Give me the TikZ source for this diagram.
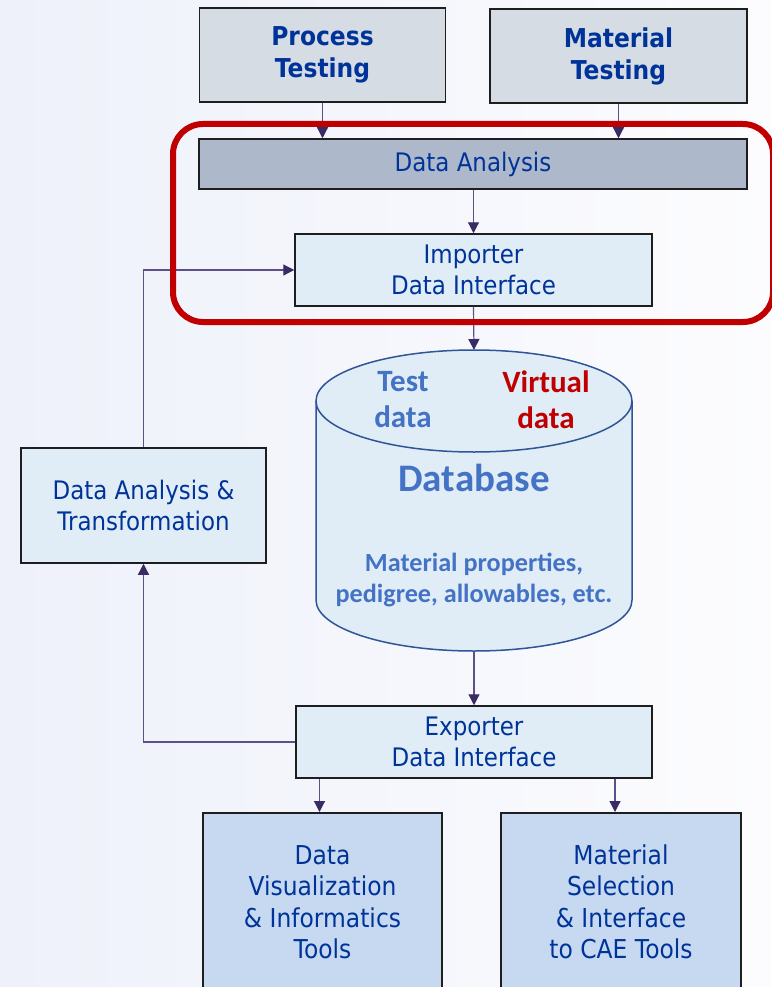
\documentclass[tikz,border=0pt]{standalone}
\usepackage{fontspec}
\setmainfont{DejaVu Sans}[FakeStretch=0.9]
\newfontfamily\dbfont{Carlito}
\usetikzlibrary{arrows.meta}

\definecolor{txtblue}{RGB}{0,51,153}
\definecolor{topfill}{RGB}{214,220,228}
\definecolor{anafill}{RGB}{173,185,202}
\definecolor{lightfill}{RGB}{224,237,247}
\definecolor{toolfill}{RGB}{198,217,240}
\definecolor{dbblue}{RGB}{68,114,196}
\definecolor{dbline}{RGB}{47,85,151}
\definecolor{frame}{RGB}{192,0,0}
\definecolor{linkline}{RGB}{94,78,138}
\definecolor{linktip}{RGB}{59,43,101}
\definecolor{boxline}{RGB}{30,30,30}
\definecolor{bgleft}{RGB}{238,241,250}
\definecolor{bgright}{RGB}{252,252,254}

\begin{document}
\begin{tikzpicture}[x=1pt,y=-1pt,
    box/.style={draw=boxline, line width=1.5pt, text=txtblue, align=center, inner sep=0pt,
        font=\fontsize{25.5}{31}\selectfont},
    titlebox/.style={box, fill=topfill, font=\fontsize{26}{32}\selectfont\bfseries},
    link/.style={draw=linkline, line width=1.2pt, -{Triangle[length=11pt,width=11pt,color=linktip]}},
    dbtext/.style={align=center, font=\dbfont\bfseries}]

    \useasboundingbox (0,0) rectangle (771,987);
    \shade[left color=bgleft, right color=bgright] (0,0) rectangle (771,987);

    % testing
    \node[titlebox, minimum width=246, minimum height=94] (proc) at (322.5,55) {Process\\Testing};
    \node[titlebox, minimum width=257, minimum height=94] (mat) at (618.5,56) {Material\\Testing};

    \node[box, fill=anafill, minimum width=548, minimum height=50] (ana) at (473,164) {Data Analysis};
    \node[box, fill=lightfill, minimum width=357, minimum height=72] (imp) at (473.5,270) {Importer\\Data Interface};

    % database
    \draw[dbline, fill=lightfill, line width=1.5pt] (316,401) -- (316,600)
        arc[start angle=180, end angle=0, x radius=158, y radius=51] -- (632,401);
    \draw[dbline, fill=lightfill, line width=1.5pt] (474,401) ellipse [x radius=158, y radius=51];
    \coordinate (dbtop) at (474,350);
    \coordinate (dbbot) at (474,651);

    \node[dbtext, text=dbblue, font=\dbfont\bfseries\fontsize{31}{36}\selectfont] (test) at (403,400) {Test\\data};
    \node[dbtext, text=frame, font=\dbfont\bfseries\fontsize{31}{36}\selectfont] (virt) at (546,400) {Virtual\\data};
    \node[dbtext, text=dbblue, font=\dbfont\bfseries\fontsize{39}{42}\selectfont] (db) at (474,478) {Database};
    \node[dbtext, text=dbblue, font=\dbfont\bfseries\fontsize{26.2}{31}\selectfont] (props) at (474,580)
        {Material properties,\\pedigree, allowables, etc.};

    \node[box, fill=lightfill, minimum width=245, minimum height=115] (trans) at (143.5,505.5) {Data Analysis \&\\Transformation};
    \node[box, fill=lightfill, minimum width=356, minimum height=72] (exp) at (474,742) {Exporter\\Data Interface};

    % tools
    \node[box, fill=toolfill, minimum width=239, minimum height=200, anchor=north] (viz) at (322.5,812) {};
    \node[box, fill=toolfill, minimum width=240, minimum height=200, anchor=north] (cae) at (621,812) {};
    \node[text=txtblue, align=center, font=\fontsize{26}{31.5}\selectfont] (viztext) at (322.5,902)
        {Data\\Visualization\\\& Informatics\\Tools};
    \node[text=txtblue, align=center, font=\fontsize{26}{31.5}\selectfont] (caetext) at (621,902)
        {Material\\Selection\\\& Interface\\to CAE Tools};

    \draw[link] (proc.south) -- (proc.south |- ana.north);
    \draw[link] (mat.south) -- (mat.south |- ana.north);
    \draw[link] (ana.south -| imp.north) -- (imp.north);
    \draw[link] (imp.south) -- (dbtop);
    \draw[link] (dbbot) -- (exp.north);
    \draw[link] (trans.north) |- (imp.west);
    \draw[link] (exp.west) -| (trans.south);
    \draw[link] ([xshift=-3pt]viz.north |- exp.south) -- ([xshift=-3pt]viz.north);
    \draw[link] ([xshift=-6pt]cae.north |- exp.south) -- ([xshift=-6pt]cae.north);

    \draw[frame, line width=6pt, rounded corners=30pt] (173,124) rectangle (773,322);
\end{tikzpicture}
\end{document}
